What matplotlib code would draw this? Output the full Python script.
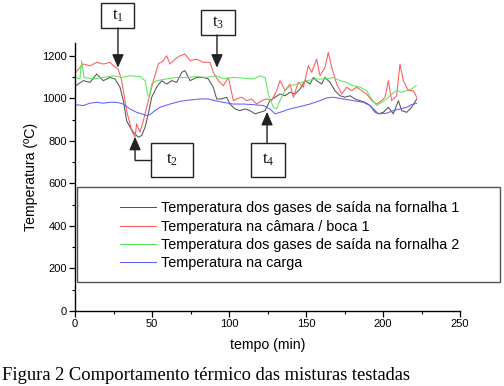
import matplotlib
matplotlib.use("Agg")
import matplotlib.pyplot as plt
from matplotlib.patches import Rectangle
from matplotlib.lines import Line2D
from matplotlib.ticker import MultipleLocator

plt.rcParams['font.family'] = ['Liberation Sans', 'DejaVu Sans']
plt.rcParams['mathtext.fontset'] = 'custom'
plt.rcParams['mathtext.rm'] = 'Liberation Serif'

# dados (tempo em min, temperatura em ºC)
t_f1 = [0.4, 5.4, 9.7, 14.1, 18.4, 22.7, 26.0, 29.2, 31.4, 33.5, 35.7, 37.9, 41.1, 43.3,
        45.5, 47.6, 49.8, 53.0, 56.3, 59.5, 62.8, 66.0, 69.3, 71.4, 74.7, 79.0, 83.3, 86.6,
        89.8, 92.0, 95.2, 98.5, 100.6, 103.9, 107.1, 110.4, 113.6, 116.9, 120.1, 123.4,
        126.6, 129.9, 133.1, 136.4, 139.6, 142.9, 146.1, 149.4, 152.6, 154.8, 156.9, 160.2,
        162.3, 165.6, 168.8, 172.1, 175.3, 178.6, 181.8, 185.1, 188.3, 191.6, 194.8, 197.0,
        200.2, 203.5, 206.7, 210.0, 212.1, 215.4, 218.6, 221.9]
T_f1 = [1059, 1083, 1075, 1114, 1083, 1098, 1091, 1052, 989, 895, 864, 841, 817, 825,
        864, 927, 1005, 1052, 1083, 1067, 1083, 1075, 1122, 1130, 1083, 1098, 1098, 1091,
        1052, 997, 997, 1005, 973, 950, 942, 950, 942, 927, 934, 942,
        989, 1005, 1020, 1012, 1028, 1020, 1044, 1083, 1067, 1098, 1083, 1067,
        1098, 1075, 1036, 1012, 1005, 1012, 997, 989, 981, 966, 942, 927,
        934, 958, 927, 989, 942, 934, 958, 997]

t_cam = [0.4, 5.4, 9.7, 14.1, 18.4, 22.7, 24.9, 28.1, 30.3, 33.5, 36.8, 39.0, 40.0, 42.2,
         44.4, 47.6, 50.9, 54.1, 57.4, 59.5, 61.7, 64.9, 68.2, 71.4, 74.7, 79.0, 83.3, 87.7,
         89.8, 93.1, 96.3, 99.6, 102.8, 105.0, 108.2, 111.5, 114.7, 117.9, 121.2, 124.5,
         127.7, 130.9, 133.1, 136.4, 139.6, 141.8, 145.0, 148.3, 151.5, 153.7, 156.9, 159.1,
         162.3, 164.5, 166.7, 169.9, 173.2, 176.4, 179.7, 182.9, 186.1, 189.4, 192.6, 195.9,
         199.1, 201.3, 203.5, 205.6, 208.9, 211.0, 213.2, 216.5, 219.7, 221.9]
T_cam = [1122, 1161, 1153, 1169, 1161, 1169, 1153, 1137, 1083, 942, 848, 817, 880, 841,
         895, 989, 1083, 1161, 1177, 1200, 1161, 1184, 1200, 1208, 1177, 1184, 1169, 1169,
         1122, 1083, 1059, 1098, 989, 997, 1005, 989, 997, 973, 989, 997,
         989, 1036, 1083, 1036, 1067, 1005, 1075, 1052, 1153, 1122, 1184, 1106,
         1145, 1216, 1145, 1067, 1020, 1052, 1036, 1052, 1036, 1020, 989, 973,
         989, 1005, 1083, 989, 1012, 1161, 1083, 1036, 1036, 1005]

t_f2 = [0.4, 3.2, 4.3, 5.8, 11.9, 18.4, 24.9, 30.3, 35.7, 42.2, 45.5, 47.0, 48.3, 49.8,
        53.0, 59.5, 66.0, 72.5, 79.0, 85.5, 92.0, 96.3, 102.8, 109.3, 115.8, 120.1, 123.4,
        125.5, 128.8, 130.9, 133.1, 136.4, 139.6, 144.0, 150.4, 156.9, 163.4, 167.7, 172.1,
        176.4, 180.7, 185.1, 189.4, 192.6, 195.9, 199.1, 202.4, 205.6, 208.9, 212.1, 215.4,
        218.6, 221.5]
T_f2 = [1098, 1091, 1177, 1098, 1091, 1098, 1106, 1098, 1106, 1102, 1083, 1020, 1005, 1067,
        1083, 1091, 1098, 1098, 1102, 1098, 1106, 1091, 1098, 1095, 1091, 1106, 1098,
        1020, 958, 950, 989, 1036, 1059, 1067, 1083, 1091, 1091, 1098, 1083,
        1075, 1059, 1052, 1036, 997, 966, 981, 997, 1020, 1036, 1028, 1036,
        1044, 1059]

t_carga = [0.4, 5.4, 9.7, 14.1, 18.4, 22.7, 27.1, 31.4, 35.7, 40.0, 43.3, 46.5, 48.7, 51.9,
           55.2, 61.7, 68.2, 74.7, 81.2, 86.6, 90.9, 96.3, 102.8, 109.3, 115.8, 122.3, 126.6,
           129.9, 133.1, 139.6, 146.1, 152.6, 159.1, 163.4, 167.7, 174.2, 180.7, 187.2,
           191.6, 194.8, 198.1, 202.4, 206.7, 211.0, 215.4, 218.6, 221.9]
T_carga = [970, 966, 977, 981, 977, 981, 981, 973, 950, 934, 927, 919, 923, 942,
           958, 973, 986, 992, 997, 997, 989, 981, 973, 973, 970, 966, 950,
           927, 934, 950, 961, 973, 989, 1002, 1005, 997, 989, 981,
           966, 934, 927, 930, 942, 950, 958, 970, 977]

rotulos = ['Temperatura dos gases de saída na fornalha 1',
           'Temperatura na câmara / boca 1',
           'Temperatura dos gases de saída na fornalha 2',
           'Temperatura na carga']
cores = ['#555555', '#ff5a5a', '#5ae85a', '#6060ff']

# marcadores t1..t4: (tempo, temperatura) da ponta da seta
marcas_t = [27.9, 39.0, 92.2, 124.7]
marcas_T = [1144, 819, 1144, 936]

W, H = 504, 386
fig = plt.figure(figsize=(W / 100, H / 100), dpi=100)
ax = fig.add_axes([75 / W, 1 - 311 / H, 385 / W, 268 / H])

series = [(t_f1, T_f1), (t_cam, T_cam), (t_f2, T_f2), (t_carga, T_carga)]
for (tt, TT), cor, rot in zip(series, cores, rotulos):
    ax.plot(tt, TT, color=cor, lw=0.75, label=rot)

ax.set_xlim(0, 250)
ax.set_ylim(0, 1260)
ax.xaxis.set_major_locator(MultipleLocator(50))
ax.xaxis.set_minor_locator(MultipleLocator(25))
ax.yaxis.set_minor_locator(MultipleLocator(100))
ax.set_yticks([0, 200, 400, 600, 800, 1000, 1200])
for s in ['top', 'right']:
    ax.spines[s].set_visible(False)
for s in ['left', 'bottom']:
    ax.spines[s].set_linewidth(1.0)
ax.tick_params(which='major', direction='out', length=4, width=0.9, labelsize=8, pad=2)
ax.tick_params(which='minor', direction='out', length=2.5, width=0.8)
ax.set_xlabel('tempo (min)', fontsize=10.2, labelpad=6)
ax.set_ylabel('Temperatura (ºC)', fontsize=10.2, labelpad=3)

# legenda com moldura larga
fig.patches.append(Rectangle((77, H - 282), 423, 95, transform=None, fill=False,
                             edgecolor='#555555', lw=1.0))
ax.legend(loc='upper left', bbox_to_anchor=(113 / W, 1 - 194 / H),
          bbox_transform=fig.transFigure, frameon=False, fontsize=10.4,
          handlelength=2.5, handletextpad=0.35, labelspacing=0.3, borderpad=0)

# caixas t1..t4 em pixels da figura: (x0, y0 topo, largura, altura)
caixas = [(101, 3, 33, 25), (151, 143, 42, 34), (201, 10, 34, 25), (251, 143, 34, 34)]
nomes = [r'$\mathrm{t_1}$', r'$\mathrm{t_2}$', r'$\mathrm{t_3}$', r'$\mathrm{t_4}$']
for i, ((x0, y0, w, h), nome) in enumerate(zip(caixas, nomes)):
    fig.patches.append(Rectangle((x0, H - y0 - h), w, h, transform=None, fill=False,
                                 edgecolor='#222222', lw=1.0, clip_on=False))
    fig.text((x0 + w / 2) / W, 1 - (y0 + h / 2) / H, nome, ha='center', va='center',
             fontsize=12, color='#111111')
    tip = (marcas_t[i], marcas_T[i])
    px = ax.transData.transform(tip)[0]
    if i == 1:
        ym = H - (y0 + h / 2)
        fig.lines.append(Line2D([x0, px], [ym, ym], transform=None, color='#222222', lw=1.0))
        start = (px, ym)
    elif y0 < 50:
        start = (px, H - y0 - h)
    else:
        start = (px, H - y0)
    ax.annotate('', xy=tip, xycoords='data', xytext=start, textcoords='figure pixels',
                arrowprops=dict(arrowstyle='-|>,head_length=0.8,head_width=0.35',
                                color='#222222', lw=1.0, shrinkA=0, shrinkB=0),
                annotation_clip=False)

fig.text(2 / W, 1 - 376 / H, 'Figura 2 Comportamento térmico das misturas testadas',
         family='Liberation Serif', fontsize=13.3, ha='left', va='center')

fig.savefig('out.png', dpi=100)
